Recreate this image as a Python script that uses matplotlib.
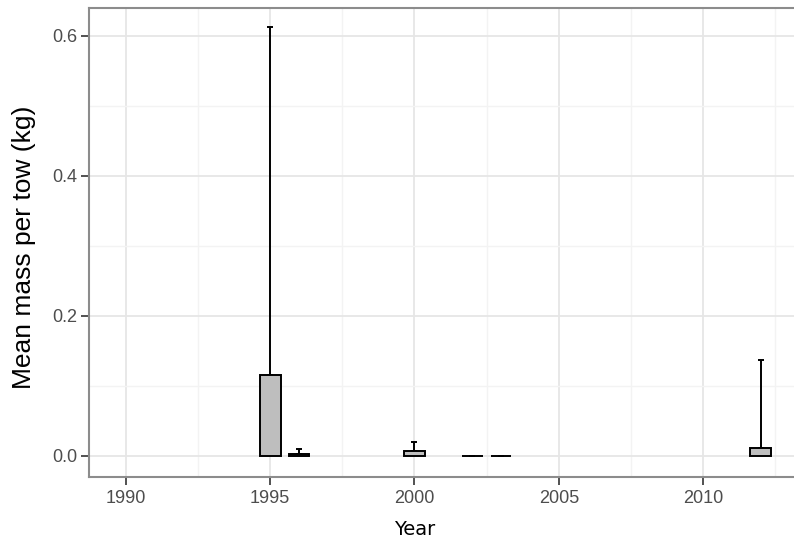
# -*- coding: utf-8 -*-
"""
Bar chart of mean mass per tow by year with upper error bars
"""
# =============================     Import modules     =====================
import numpy as np
import matplotlib.pyplot as plt

# =============================        Data            =====================
years   = [1995, 1996, 2000, 2002, 2003, 2012]
mass    = [0.115, 0.0035, 0.0067, 0.0, 0.0, 0.012]     # mean mass per tow, kg
err_up  = [0.497, 0.006, 0.0138, 0.0, 0.0, 0.125]      # upper error, kg
x_ticks = [1990, 1995, 2000, 2005, 2010]
y_ticks = [0.0, 0.2, 0.4, 0.6]
y_tlabs = ['0.0', '0.2', '0.4', '0.6']

# =============================    Plot settings       =====================
xlabel   = 'Year'
ylabel   = 'Mean mass per tow (kg)'
c_border = '#8c8c8c'
c_major  = '#e6e6e6'
c_minor  = '#f3f3f3'
c_text   = '#4d4d4d'
c_fill   = '#bebebe'

# -- Create plot area:
fig = plt.figure(figsize = (7.94, 5.42), dpi = 100)
ax  = fig.add_axes([0.1127, 0.1199, 0.8873, 0.8648])

# -- Error bars (only upper part) and bars on top:
ax.errorbar(
    years,
    mass,
    yerr = [np.zeros(len(err_up)), err_up],
    fmt = 'none',
    ecolor = 'black',
    elinewidth = 1.4,
    capsize = 2.5,
    capthick = 1.4,
    zorder = 2,
)
ax.bar(
    years,
    mass,
    width = 0.72,
    color = c_fill,
    edgecolor = 'black',
    linewidth = 1.4,
    zorder = 3,
)

# -- Limits and ticks:
ax.set_xlim(1988.74, 2013.15)
ax.set_ylim(-0.030, 0.639)
ax.set_xticks(x_ticks)
ax.set_xticks([t + 2.5 for t in x_ticks], minor = True)
ax.set_yticks(y_ticks)
ax.set_yticklabels(y_tlabs)
ax.set_yticks([0.1, 0.3, 0.5], minor = True)
ax.tick_params(which = 'major', length = 5.5, width = 1.2, color = '#333333',
               labelsize = 13, labelcolor = c_text, pad = 3.5)
ax.tick_params(which = 'minor', length = 0)
for lab in ax.get_xticklabels() + ax.get_yticklabels():
    lab.set_family('Liberation Sans')

# -- Grid settings:
ax.grid(True, which = 'major', color = c_major, linewidth = 1.3, zorder = 0)
ax.grid(True, which = 'minor', color = c_minor, linewidth = 1.0, zorder = 0)
ax.set_axisbelow(True)

# -- Panel border:
for side in ['left', 'bottom', 'top']:
    ax.spines[side].set_color(c_border)
    ax.spines[side].set_linewidth(1.5)
ax.spines['right'].set_visible(False)

# -- Axis titles:
ax.set_xlabel(xlabel, fontsize = 14, family = 'DejaVu Sans', color = 'black')
ax.set_ylabel(ylabel, fontsize = 19, family = 'Liberation Sans', color = 'black')
ax.xaxis.set_label_coords(0.462, -0.113)
ax.xaxis.label.set_va('center')
ax.yaxis.set_label_coords(-0.093, 0.49)
ax.yaxis.label.set_va('center')

# -- Save plot:
plt.savefig('out.png', format = 'png', dpi = 100)
plt.close(fig)
